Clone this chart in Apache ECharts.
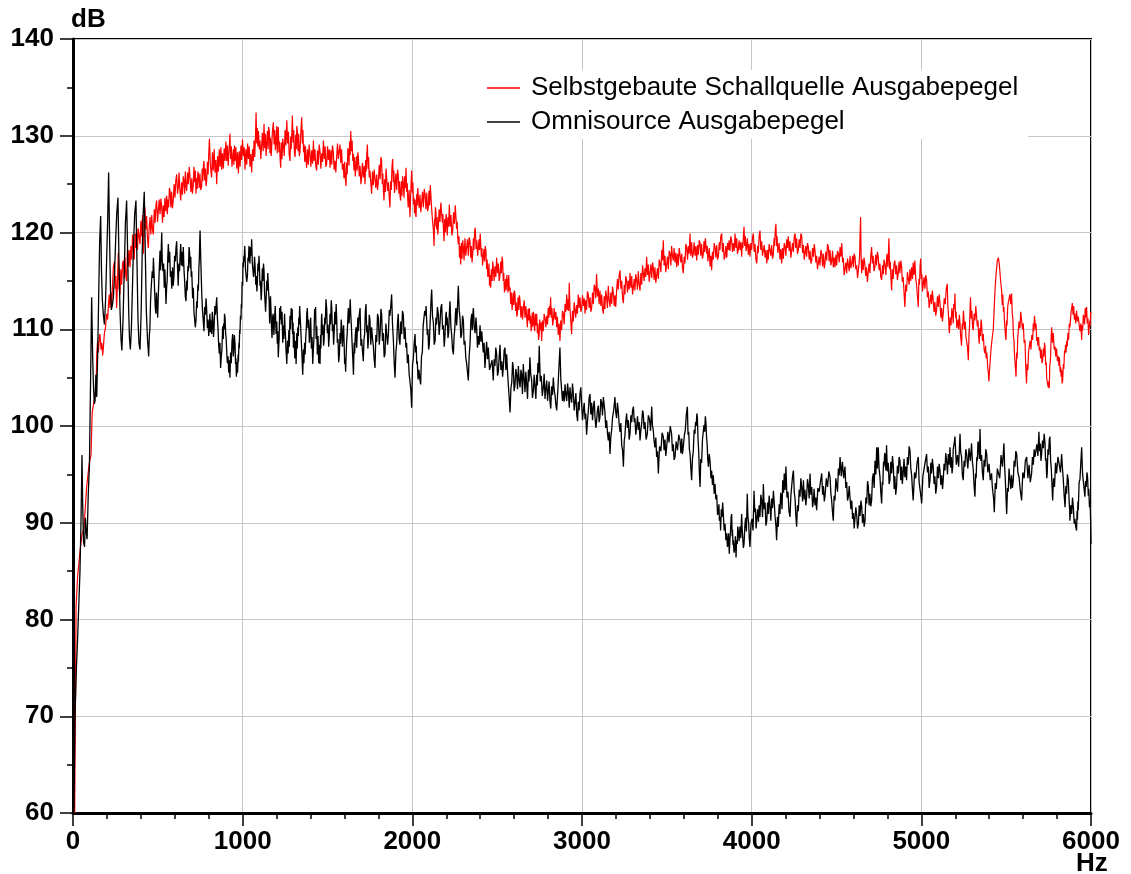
<!DOCTYPE html>
<html>
<head>
<meta charset="utf-8">
<title>Ausgabepegel</title>
<script src="https://cdn.jsdelivr.net/npm/echarts@6/dist/echarts.min.js"></script>
<style>
  html, body { margin: 0; padding: 0; background: #fff; }
  #chart { width: 1131px; height: 874px; }
</style>
</head>
<body>
<div id="chart"></div>
<script>
const seriesNames = ['Selbstgebaute Schallquelle Ausgabepegel', 'Omnisource Ausgabepegel'];
const seriesColors = ['#ff0000', '#000000'];

// [Hz, dB]
const selbstgebaute = [
  [10,60],[18,81.4],[27,84.4],[41,87],[53,88.8],[65,89.5],[80,93.6],[96,96.2],[106,97],[113,101.4],[120,101.2],[128,103],[136,104],[140,107.4],[145,108.8],[150,107.6],[155,109.2],[159,109.5],[165,107.9],[170,108.6],[175,107.3],[179,108.1],[185,109.6],[191,110.1],[198,111.6],[204,111],[209,112.6],[214,113.6],[218,112.2],[223,113.8],[228,112.4],[233,114.6],[238,116.4],[244,117],[249,114.2],[253,115.5],[257,112.2],[262,114.6],[267,117.9],[272,114.2],[277,113.6],[282,116.2],[287,114.6],[292,116.8],[297,117.1],[302,115.2],[306,117.5],[311,115.6],[316,115],[321,118.3],[326,116.5],[331,118.2],[336,116.4],[341,118.6],[346,117.2],[351,119.8],[356,118.1],[361,117.2],[366,119.9],[371,118.4],[375,120.5],[380,118.2],[385,120.4],[390,119.6],[395,118.8],[400,121.2],[405,119.6],[410,121.8],[415,117.8],[420,120.2],[424,122.6],[429,120.3],[434,121.7],[439,119.4],[444,118.4],[449,120.5],[454,121.6],[459,119.8],[464,121.8],[469,120.2],[474,119.8],[479,122.4],[484,121],[489,122.8],[493,123.3],[498,121.1],[503,121.2],[508,123.4],[513,121.9],[518,123.5],[523,122.6],[528,121],[532,122.8],[537,121.6],[542,123.6],[547,122.2],[552,123.8],[556,121.9],[560,123.4],[564,122.6],[568,124.6],[572,124.3],[577,122.6],[581,124.2],[586,122.5],[591,123.3],[596,125],[601,123.6],[606,125.4],[611,126],[616,124],[621,124.7],[625,126.2],[630,124.4],[635,123.3],[640,125.2],[645,123.9],[650,125.8],[654,125.3],[658,124],[662,126.3],[666,124.8],[670,124.3],[675,126.2],[680,125],[685,126.8],[690,125.7],[695,124.2],[700,125.6],[704,124],[709,125],[713,126.8],[717,125.2],[721,126.4],[725,124],[729,125.6],[732,124.5],[736,126.3],[739,126],[744,124.6],[748,126.1],[753,124.4],[758,124.7],[762,126.6],[765,125.3],[769,127],[772,127.4],[776,125.4],[780,126.6],[784,124.8],[788,125.3],[792,127.3],[796,126],[800,128],[804,129.7],[810,126.9],[817,125.7],[822,128.3],[827,126.4],[832,128.6],[837,126.2],[842,127.5],[847,125],[852,127.9],[857,126.3],[862,128.6],[867,126.8],[872,128.8],[876,126.5],[881,128.2],[886,126.6],[891,128.7],[896,127.4],[901,129.4],[906,127.4],[910,129],[915,126.9],[920,128.6],[925,130.2],[929,127.6],[933,128.9],[937,126.8],[941,126.7],[945,128.6],[948,127],[952,129],[955,127.4],[960,128.8],[965,126.6],[970,128.3],[975,126.1],[980,128.4],[985,126.8],[990,129],[994,127.5],[999,129.6],[1004,127.9],[1009,128.8],[1014,126.5],[1019,128.6],[1024,127],[1029,129.2],[1034,127.6],[1039,128.9],[1043,126.8],[1048,128.1],[1053,126.2],[1058,128.6],[1063,127.4],[1067,129.5],[1071,127.8],[1075,129.6],[1079,132.4],[1083,129.2],[1086,130.8],[1090,128.9],[1093,130.5],[1098,128.6],[1102,129.5],[1107,127.6],[1112,127.8],[1116,130.3],[1121,128.4],[1126,131.2],[1130,128.7],[1134,130.2],[1138,127.9],[1142,128.1],[1146,130.5],[1150,128.6],[1153,130.9],[1157,130.5],[1161,128.2],[1164,129.8],[1168,127.9],[1171,128.8],[1176,130.6],[1181,131.4],[1185,129.1],[1189,130.6],[1193,128.5],[1197,129.5],[1201,131],[1204,128.2],[1207,130.2],[1210,130.9],[1214,128.3],[1217,129.4],[1221,127.5],[1224,126.7],[1228,129.3],[1232,127.6],[1236,129.7],[1240,129.1],[1245,127.9],[1250,130.6],[1255,129],[1260,131.6],[1265,129.2],[1270,130.4],[1274,128.1],[1279,127.4],[1283,129.9],[1286,128.6],[1290,130.4],[1293,132.1],[1297,129.3],[1301,130.6],[1305,128.2],[1309,127.8],[1313,130.1],[1316,128.6],[1319,131],[1322,130.5],[1326,128.4],[1330,130.2],[1334,127.9],[1338,128.4],[1343,130.4],[1348,131.9],[1352,129.2],[1355,130.6],[1359,128.3],[1362,129.1],[1366,127.3],[1370,128.9],[1374,127.4],[1377,126.7],[1382,128.6],[1387,127],[1392,129.1],[1397,128.1],[1402,126.8],[1407,128.5],[1412,127.1],[1417,129.5],[1421,127.4],[1426,128.6],[1431,126.9],[1436,126.4],[1441,128.5],[1446,127],[1451,129.1],[1456,128.4],[1461,126.6],[1466,128.2],[1471,127.3],[1476,129.5],[1481,127.6],[1486,128.9],[1490,126.8],[1495,127.1],[1500,128.9],[1505,127.5],[1510,128.6],[1515,126.7],[1520,128.5],[1525,127],[1529,129],[1534,128.4],[1539,126.5],[1544,127.4],[1549,126.2],[1554,127.8],[1559,129.2],[1564,127.6],[1569,128.4],[1574,129.1],[1578,127.2],[1583,128.6],[1588,126.5],[1593,127.1],[1597,125.6],[1601,127.3],[1605,125.6],[1609,124.8],[1613,127.2],[1616,126],[1620,128.7],[1623,128.4],[1627,126.9],[1630,129.4],[1634,128],[1637,130.5],[1641,128.4],[1645,129.5],[1649,127.4],[1652,128.1],[1656,126.4],[1660,127.8],[1664,125.8],[1668,126],[1672,127.9],[1675,126.4],[1679,128.3],[1682,127.8],[1687,125.8],[1692,126.9],[1697,125],[1701,125.7],[1706,127.2],[1711,125.7],[1716,126.9],[1721,125],[1725,127.5],[1728,126.3],[1732,128.2],[1735,129.1],[1739,126.6],[1742,127.8],[1746,125.7],[1750,126.4],[1755,125.2],[1760,124],[1765,126.3],[1770,124.9],[1775,126.5],[1780,126.7],[1785,124.6],[1790,126],[1795,124.4],[1800,125.3],[1805,127],[1810,125.5],[1815,127.8],[1819,127.4],[1823,125],[1826,126.1],[1830,124.2],[1833,123.3],[1837,125.5],[1841,124.2],[1845,126.6],[1849,126.4],[1854,124.3],[1859,125.2],[1864,123.6],[1868,122.6],[1872,125.3],[1876,124.4],[1880,126.8],[1884,127.6],[1888,125.2],[1891,126.4],[1895,124.1],[1898,124.7],[1903,126.1],[1908,124.4],[1913,126.5],[1917,126],[1921,124],[1924,125.3],[1928,123.7],[1931,123.3],[1935,125.3],[1939,123.8],[1943,125.8],[1947,125],[1951,123.6],[1955,125.8],[1959,124.6],[1963,126.7],[1967,124.2],[1970,125.1],[1973,123.4],[1976,122.6],[1981,124.4],[1986,121.6],[1991,124.2],[1996,126.4],[2000,124.1],[2003,125.2],[2007,122.9],[2010,123.6],[2013,122],[2016,123.4],[2019,121.9],[2022,121.6],[2026,124],[2029,122.8],[2032,124.6],[2035,124.7],[2040,122.5],[2045,123.9],[2050,122.1],[2055,122.2],[2060,124.2],[2065,122.6],[2070,124.5],[2075,124],[2080,122.4],[2085,124.1],[2090,122.2],[2094,122.6],[2098,124.3],[2102,122.8],[2106,124.9],[2110,124.7],[2114,122.4],[2119,121.2],[2124,120.3],[2128,118.6],[2131,121.4],[2133,120.6],[2136,122.6],[2139,122.2],[2143,120.3],[2146,121.6],[2150,119.8],[2153,120.5],[2158,122.4],[2163,121.1],[2168,123.1],[2173,123.3],[2177,121],[2180,121.9],[2184,120.1],[2187,119.1],[2191,121.4],[2195,120],[2199,121.9],[2202,121.2],[2206,119.7],[2210,121.6],[2214,120.6],[2218,122.9],[2223,120.6],[2228,121.8],[2233,119.7],[2238,120.2],[2243,122.1],[2248,120.9],[2253,122.8],[2257,122.6],[2261,120.4],[2264,121.1],[2268,119.4],[2271,118.8],[2275,119.6],[2278,117.4],[2282,118.6],[2285,116.7],[2289,118.9],[2293,117.3],[2297,119.2],[2301,118.4],[2305,117.1],[2310,119.4],[2315,117.6],[2320,117.8],[2325,119.3],[2330,117.6],[2335,119.5],[2340,119.1],[2344,117.4],[2348,118.6],[2352,116.9],[2356,117.8],[2360,119.4],[2363,118.2],[2367,120.1],[2371,120.5],[2376,118.3],[2380,119.2],[2385,117.6],[2389,117.4],[2393,119.3],[2396,118.2],[2400,119.9],[2403,119.8],[2407,117.5],[2410,118.4],[2414,116.6],[2418,116.7],[2422,118.3],[2426,117],[2430,118.6],[2434,118.1],[2438,116.2],[2441,117.2],[2445,115.4],[2448,115.7],[2452,116.8],[2455,114.5],[2459,115.6],[2462,114.3],[2466,116.2],[2470,115],[2474,117],[2477,116.4],[2482,115],[2487,116.5],[2492,115.4],[2497,117.4],[2502,115.8],[2507,116.8],[2512,115],[2517,115.7],[2521,117],[2525,115.8],[2529,117.5],[2532,117.1],[2536,115],[2539,115.8],[2543,113.8],[2546,113.6],[2550,115.2],[2553,114],[2557,115.6],[2560,115],[2564,113.8],[2568,115.6],[2572,114],[2576,114.3],[2580,112.6],[2584,113.8],[2588,112],[2591,112.2],[2595,113.8],[2598,112.5],[2602,114],[2605,113.6],[2609,111.9],[2612,112.8],[2616,111.3],[2619,111.6],[2623,113.3],[2627,112],[2631,113.5],[2635,112.9],[2640,111.2],[2645,112.4],[2650,111],[2654,112.2],[2659,113],[2664,111.2],[2669,112.4],[2674,111.2],[2678,110.2],[2682,112.1],[2686,110.9],[2690,112.2],[2694,110.6],[2697,111.4],[2700,109.8],[2703,110.2],[2707,111.7],[2710,110.3],[2714,111.8],[2717,110.9],[2721,109.8],[2725,111.6],[2729,110.4],[2733,111.6],[2737,109.6],[2740,110.6],[2744,108.9],[2748,109.5],[2751,111],[2755,109.9],[2759,110.7],[2762,108.8],[2767,110.9],[2772,109.8],[2777,111.6],[2782,111.2],[2787,110.2],[2792,111.4],[2797,110.5],[2801,112.2],[2805,111.2],[2808,112.4],[2812,111.5],[2815,113.3],[2819,111.2],[2823,112.2],[2827,110.4],[2831,110.9],[2836,112.2],[2841,111],[2846,111.8],[2851,110.2],[2855,111.3],[2860,109.4],[2865,110.6],[2870,108.8],[2875,110.9],[2880,109.9],[2885,111.9],[2890,111.6],[2895,110.5],[2900,112.6],[2905,111.8],[2910,113.6],[2914,112],[2918,113.1],[2921,111.9],[2925,114.8],[2929,112.2],[2932,111.4],[2936,110.2],[2939,109.5],[2944,111.9],[2949,110.8],[2954,112.8],[2959,112.6],[2963,111.2],[2968,112.5],[2973,111.6],[2978,113.6],[2983,112.2],[2988,113.3],[2993,111.8],[2998,112.2],[3003,113.5],[3008,112.4],[3013,113.2],[3018,111.6],[3022,113],[3027,112],[3032,113.9],[3037,113.6],[3042,112.2],[3047,113.3],[3052,111.8],[3057,112.2],[3062,113.8],[3067,112.6],[3072,114.6],[3077,114.3],[3081,113.2],[3086,115.7],[3091,113.4],[3096,114.2],[3101,112.6],[3106,114],[3111,112.4],[3116,113.6],[3121,112.1],[3126,111.6],[3131,113.4],[3135,112.1],[3140,114],[3145,113.3],[3150,112.2],[3155,114.5],[3160,113],[3165,112.3],[3170,113.8],[3175,112.6],[3180,114.4],[3185,113.7],[3190,112.4],[3194,113.5],[3199,112.3],[3204,114],[3209,115.2],[3214,114.1],[3219,115.6],[3224,116.1],[3229,114.2],[3234,115],[3239,113.2],[3244,112.7],[3249,114.6],[3253,113.6],[3258,115.5],[3263,115.1],[3268,113.8],[3273,115],[3278,114.1],[3283,115.8],[3288,114.3],[3293,115.5],[3298,113.6],[3303,113.7],[3308,115.2],[3312,114],[3317,115.7],[3322,115.1],[3327,114.1],[3332,116],[3337,114.6],[3342,114],[3347,115.8],[3352,114.6],[3357,116.6],[3361,116.4],[3366,115],[3371,116.3],[3376,115.4],[3381,117.5],[3386,115.6],[3391,116.7],[3396,114.9],[3401,115.1],[3406,116.7],[3411,115.3],[3416,116.9],[3420,116.4],[3425,115.1],[3430,116.4],[3435,114.8],[3440,114.7],[3445,116.3],[3450,115.2],[3455,117.2],[3460,116.8],[3465,115.9],[3470,118.2],[3475,117.1],[3479,119.2],[3484,116.6],[3489,117.6],[3494,115.9],[3499,116.1],[3504,117.5],[3509,116.2],[3514,118.1],[3519,117.8],[3524,116.6],[3528,118.6],[3533,117.6],[3538,117.1],[3543,118.4],[3548,116.9],[3553,117.9],[3558,116.4],[3563,117.8],[3568,116.6],[3573,118.4],[3578,118.2],[3583,116.9],[3588,117.8],[3592,116.4],[3597,115.8],[3602,117.5],[3607,116.8],[3612,118.8],[3617,118.5],[3622,117.2],[3627,118.6],[3632,117.8],[3637,119.9],[3641,117.6],[3646,119],[3651,117.4],[3656,117.8],[3661,119],[3666,117.6],[3671,118.6],[3676,117.1],[3681,118.7],[3686,117.7],[3691,119.2],[3696,118.9],[3700,117.6],[3705,118.8],[3710,117.3],[3715,117.8],[3719,119.1],[3723,118],[3727,119.4],[3731,119.6],[3735,117.8],[3738,118.6],[3742,117],[3745,117.5],[3750,118.4],[3755,116.5],[3760,117.6],[3764,116.1],[3769,118],[3774,117.2],[3779,118.9],[3784,118.5],[3789,117.4],[3794,118.7],[3799,117.2],[3804,117.5],[3809,119],[3813,118.2],[3818,119.6],[3823,119.9],[3828,118],[3833,118.9],[3838,117.2],[3843,117.5],[3848,118.6],[3853,117.4],[3858,118.9],[3863,118.2],[3867,119.2],[3872,118.1],[3877,119.6],[3882,119.2],[3887,118],[3892,118.9],[3897,118.1],[3902,119.9],[3907,118.4],[3912,119.4],[3916,117.8],[3921,118.2],[3926,119.2],[3931,118.2],[3936,119],[3941,117.5],[3945,119],[3948,118.4],[3952,119.8],[3955,120.6],[3959,118.6],[3963,119.6],[3967,118.1],[3971,118.5],[3975,119.4],[3980,117.7],[3985,118.8],[3990,117.5],[3995,118.9],[4000,118.2],[4005,119.5],[4010,119.9],[4015,118],[4020,118.8],[4025,117.2],[4030,116.8],[4035,118.6],[4039,117.9],[4044,119.6],[4049,120.2],[4054,118.2],[4059,119.1],[4064,117.6],[4069,117.5],[4074,118.7],[4079,117.4],[4084,118.2],[4089,116.8],[4094,118.2],[4098,117.2],[4103,118.8],[4108,118.9],[4113,117.6],[4118,118.7],[4123,117.3],[4128,117.8],[4132,119.4],[4135,118.6],[4139,120.2],[4143,120.9],[4147,118.6],[4150,119.6],[4154,117.9],[4157,117.8],[4162,118.9],[4167,117.2],[4172,118.3],[4177,116.8],[4182,118.4],[4187,117.3],[4192,118.9],[4197,118.5],[4202,117.6],[4206,119.3],[4211,118.4],[4216,119.6],[4221,118.1],[4226,119.1],[4231,117.4],[4236,117.5],[4241,118.9],[4246,118],[4251,119.6],[4256,119.9],[4260,118.4],[4265,119.4],[4270,117.8],[4275,118.2],[4280,119.3],[4285,118.4],[4290,119.9],[4295,119.6],[4300,117.9],[4305,118.7],[4310,117.2],[4314,117.1],[4319,118.6],[4324,117.5],[4329,118.9],[4334,118.5],[4339,117.2],[4344,118.1],[4349,116.8],[4354,117.1],[4359,118.4],[4364,117.5],[4369,118.8],[4373,118.2],[4378,116.9],[4383,117.6],[4388,116.2],[4393,116.1],[4398,117.5],[4403,116.6],[4408,118.2],[4413,117.8],[4418,116.5],[4423,117.8],[4428,116.3],[4432,116.8],[4437,118],[4442,117.1],[4447,118.8],[4452,118.5],[4457,117],[4462,118.2],[4467,116.6],[4472,117.1],[4477,118.1],[4481,116.4],[4486,117.4],[4491,116.4],[4496,117.7],[4501,116.6],[4506,118.1],[4511,117.8],[4516,116.9],[4521,118.5],[4526,117.5],[4531,118.9],[4536,116.9],[4540,117.4],[4545,115.6],[4550,115.4],[4555,116.9],[4560,115.8],[4565,117.3],[4570,117.1],[4575,116],[4580,117.6],[4585,116.3],[4590,116.8],[4595,117.6],[4600,116.4],[4604,117.8],[4609,117.5],[4614,116.2],[4619,116.6],[4624,115.3],[4629,115.4],[4633,116.8],[4636,117.5],[4639,119.8],[4642,121.6],[4645,117.5],[4648,115.8],[4652,117.2],[4657,116.1],[4662,117.4],[4667,116.8],[4672,115.5],[4677,116.4],[4682,114.9],[4687,115.1],[4692,116.8],[4697,115.8],[4702,117.6],[4707,118.5],[4711,116.8],[4716,117.6],[4721,116],[4726,116.4],[4731,117.7],[4736,116.6],[4741,118],[4746,117.5],[4751,116.1],[4756,116.8],[4761,115.4],[4766,115.1],[4771,116.6],[4776,115.7],[4780,117.2],[4785,116.8],[4791,115.6],[4797,117.8],[4803,116.4],[4809,119.4],[4813,116.2],[4817,117],[4821,115.2],[4825,114],[4829,116.2],[4834,115.2],[4839,116.8],[4844,117.1],[4849,115.7],[4854,116.6],[4859,115.1],[4864,115.8],[4869,117],[4874,115.8],[4879,117.1],[4884,116.4],[4888,114.9],[4893,115.4],[4898,113.8],[4903,112.3],[4908,114.6],[4913,113.9],[4918,115.9],[4923,115.8],[4928,114.6],[4933,116.2],[4938,115],[4943,116.4],[4948,115.2],[4952,116.9],[4957,115.6],[4962,117.1],[4967,115.2],[4972,114.6],[4977,113.4],[4982,112.3],[4986,115.2],[4989,114.6],[4993,116.6],[4996,117.3],[5000,115.2],[5003,115.7],[5007,113.9],[5011,114],[5016,115.4],[5021,114.2],[5026,115.6],[5031,115.1],[5036,113.3],[5041,113.9],[5046,112.2],[5051,112.3],[5056,113.6],[5060,112.6],[5065,114],[5070,113],[5075,111.8],[5080,112.8],[5085,111.4],[5090,112],[5095,113.4],[5100,112.3],[5105,113.6],[5110,112.7],[5115,111.2],[5120,112.2],[5124,110.8],[5129,111.6],[5135,113.2],[5141,112.6],[5147,114.2],[5153,114.7],[5156,112.5],[5159,111.8],[5162,110.6],[5165,109.6],[5170,111.2],[5175,110.4],[5180,112.2],[5184,111.6],[5188,110.6],[5191,112.6],[5195,112.1],[5198,113.7],[5202,111.2],[5205,111.8],[5209,110.1],[5212,109.9],[5216,111],[5220,110],[5224,111.5],[5228,110.6],[5232,109.2],[5237,108.3],[5241,110.6],[5244,110],[5248,111.9],[5251,111.9],[5255,110],[5259,110.8],[5263,109.2],[5267,109.2],[5272,108.2],[5277,106.8],[5281,109.4],[5284,110.3],[5287,112],[5290,113.3],[5294,111.1],[5298,111.9],[5302,110.2],[5306,109.9],[5311,111.6],[5316,110.9],[5321,112.4],[5326,112.3],[5330,110.3],[5334,110.9],[5338,109.2],[5341,108.5],[5345,110.1],[5348,109.3],[5352,111],[5355,110.6],[5360,108.8],[5365,109.5],[5370,107.9],[5375,107.5],[5379,108.3],[5382,107],[5386,107.6],[5389,106.8],[5392,105.9],[5395,105.5],[5398,104.6],[5400,104.4],[5404,106.3],[5407,106.2],[5411,108],[5414,108.2],[5419,109.3],[5424,109.9],[5429,112],[5434,114],[5441,115.8],[5448,117.1],[5454,117.4],[5459,116.8],[5466,115.3],[5473,114],[5477,112.5],[5480,113.6],[5484,111.8],[5487,112.3],[5490,110.8],[5493,110.9],[5496,109.3],[5499,108.9],[5502,110.9],[5505,110.4],[5509,112.3],[5512,112.7],[5517,112.9],[5522,113.6],[5527,112.6],[5532,113.7],[5536,111.6],[5539,111.2],[5543,109.2],[5546,108.9],[5549,107.4],[5552,107.2],[5555,105.9],[5558,105.1],[5562,107.6],[5565,107],[5568,109],[5571,109.2],[5576,110.8],[5581,110.1],[5586,111.8],[5591,111.6],[5596,110],[5601,110.6],[5606,108.6],[5611,108.9],[5615,106.2],[5620,104.4],[5624,106.4],[5628,105.8],[5632,107.7],[5636,107.5],[5641,108.8],[5646,107.9],[5651,109.4],[5656,108.9],[5660,110.6],[5663,109.8],[5667,111.4],[5670,111.6],[5673,110],[5676,110.6],[5680,108.8],[5683,109.2],[5687,108.3],[5691,109.2],[5695,107.8],[5699,108.2],[5703,107],[5707,107.9],[5711,106.5],[5715,106.8],[5719,108],[5722,107.2],[5726,108.6],[5729,108.2],[5733,106.3],[5736,106.6],[5739,104.9],[5742,104.7],[5745,104.9],[5748,104],[5751,104.6],[5754,103.9],[5757,106.2],[5761,106.8],[5764,108.6],[5768,110.2],[5773,108.6],[5778,109.6],[5783,107.9],[5788,108.2],[5792,107.2],[5797,108],[5802,106.7],[5807,107.2],[5811,106.2],[5814,107.1],[5818,105.6],[5821,106.1],[5824,105.1],[5827,105.8],[5830,104.4],[5833,104.7],[5837,106.4],[5840,105.9],[5844,107.8],[5847,107.5],[5850,108.4],[5853,107.6],[5857,108.8],[5860,108.2],[5864,109.6],[5868,108.9],[5872,110.6],[5876,110.2],[5880,111.2],[5883,111.9],[5887,112.3],[5890,112.7],[5894,111.5],[5898,112.4],[5902,111],[5905,111.6],[5910,110.6],[5915,111.9],[5920,110.8],[5925,111.3],[5930,110.5],[5935,109.8],[5940,110.6],[5945,108.9],[5948,110.4],[5951,109.9],[5955,111.5],[5958,111.6],[5962,110.5],[5966,112.2],[5970,111.2],[5974,112.3],[5978,110.6],[5982,111.1],[5986,109.4],[5990,109.6],[5993,110.9],[5995,110.3],[5998,111.8],[6000,111.6]
];

const omnisource = [
  [5,60],[12,70],[20,75],[27,78],[35,82],[41,84.9],[47,90],[53,97],[57,92],[62,88],[68,87.5],[73,90.5],[78,89],[83,88.3],[90,93],[97,96],[103,104],[110,113.3],[116,107],[121,104],[126,102.3],[130,102.6],[135,105.3],[140,103],[146,108],[152,114],[157,119],[163,121.7],[168,116],[173,113],[179,111.5],[185,110.5],[192,113],[198,117],[204,121],[210,126.2],[216,119],[221,114],[226,112],[232,112.5],[238,113.3],[245,116],[252,119.5],[258,122],[265,123.6],[271,117],[277,112],[283,109],[288,107.8],[295,111],[302,116],[309,121],[316,123.3],[322,118],[328,112],[333,109],[338,107.9],[344,110],[350,114],[357,119],[364,122],[371,123.3],[377,117],[383,111],[389,108.5],[395,107.9],[402,112],[408,118],[414,122],[420,124.2],[426,118],[432,112],[439,109],
  [446,107.2],[450,109.4],[453,110],[457,112.9],[460,114],[464,115.2],[467,116],[471,115.3],[474,117.4],[478,115.6],[481,114],[485,112.2],[489,111.6],[492,113.8],[494,113],[497,112.4],[499,111.2],[503,113.6],[506,115],[510,116.9],[513,118.1],[516,116.1],[518,116.8],[521,118.9],[523,120],[526,117.1],[530,116],[534,116.8],[538,114.3],[541,116.2],[543,115.5],[546,114],[548,112.6],[552,114.4],[555,115],[559,117.6],[562,118.8],[566,116.9],[570,118],[574,115.4],[578,116],[582,114.2],[587,116.4],[591,114.5],[595,115.5],[599,117.6],[603,117],[607,118.4],[611,119.1],[614,117.2],[616,116.5],[618,115.6],[620,114.5],[624,116.8],[628,116],[632,117.9],[635,118.8],[639,116.6],[643,118],[647,116.5],[650,118.5],[654,116.2],[658,115],[662,113.4],[666,112.9],[670,115],[673,114],[677,116.5],[680,116],[684,118.5],[687,118],[691,116.3],[694,117.5],[697,115.4],[700,116],[705,113.2],[709,114.3],[713,111.8],[717,112],[721,110.2],[725,110.9],[729,112.9],[732,112.2],[736,114.6],[739,114],[742,116.4],[744,117],[747,119.1],[749,120.2],[752,117.9],[755,116],[759,113.6],[763,112],[768,110.8],[772,109.8],[776,112.3],[780,111.5],[784,113.2],[788,112],[792,110.1],[796,111],[800,109.3],[804,110.5],[807,111.6],[810,109.7],[814,110.9],[817,109.5],[821,111.8],[824,111],[828,109.2],[831,110],[836,112.4],[840,111.5],[844,112.6],[847,113.3],[851,111.2],[855,110],[858,108.6],[862,107.5],[866,108.6],[870,106],[874,107.2],[878,108],[882,110.3],[886,109],[888,110.6],[891,110],[893,111.6],[896,111.2],[900,109.5],[903,109],[907,107.3],[910,106.5],[914,107.2],[918,105.5],[922,106.8],[925,105],[929,107.6],[933,106.5],[937,108.7],[941,109.5],[945,107.2],[948,108],[951,109.4],[955,108.5],[958,106.4],[960,107],[963,105.1],[965,105.3],[968,106.6],[970,105.5],[973,107.4],[975,106.6],[978,108.6],[980,108],[982,109.9],[984,109.5],[987,111.4],[990,111],[992,112.6],[994,112.2],[997,114.9],[1000,114.5],[1002,116.9],[1004,116.4],[1007,117.6],[1009,117],[1012,118.6],[1014,117.8],[1017,116.1],[1020,116],[1024,114.9],[1028,115.5],[1031,117.4],[1034,117],[1037,118.6],[1039,118.1],[1043,116.8],[1046,118.5],[1050,117.6],[1053,119.3],[1057,116.8],[1060,117],[1064,115.4],[1067,116],[1070,117.5],[1073,116.6],[1077,114.6],[1080,115.5],[1084,113.9],[1087,115],[1090,116.8],[1093,116],[1096,117.6],[1098,116.9],[1102,114.5],[1105,115],[1109,113],[1112,114],[1116,116.3],[1119,115],[1123,116.8],[1126,116],[1129,113.8],[1132,114],[1135,111.8],[1138,112.9],[1142,115],[1145,114],[1148,115.8],[1150,115],[1153,113.8],[1156,113],[1159,110.6],[1161,111.6],[1164,113.4],[1167,112],[1170,110.2],[1173,109.1],[1177,111.3],[1180,111.6],[1184,109.4],[1188,111],[1192,112.4],[1197,109.5],[1201,110.8],[1204,108.5],[1207,109.8],[1210,107.1],[1213,108.4],[1215,109],[1218,112.2],[1220,111],[1224,112.4],[1228,110.5],[1232,111.8],[1236,108.6],[1240,110.4],[1243,109],[1247,111.6],[1250,110],[1253,109.2],[1255,108],[1258,107.2],[1260,106.4],[1264,108.8],[1268,107.5],[1272,109.9],[1275,108.2],[1279,111.4],[1282,110],[1286,112.2],[1289,111],[1292,112.1],[1294,109.5],[1297,110.7],[1299,108.1],[1303,109.8],[1307,107],[1311,108.8],[1315,106.4],[1319,109.6],[1322,108],[1325,110.2],[1328,109.3],[1331,111.2],[1333,110.5],[1336,112.4],[1338,111.6],[1342,110.2],[1345,109],[1350,107.1],[1354,105.3],[1358,107.9],[1361,106.5],[1365,108.6],[1368,107.4],[1372,109.2],[1375,110],[1378,111.6],[1381,112.2],[1385,110.1],[1389,111],[1393,108.6],[1397,109.5],[1401,111.2],[1405,108],[1409,109.2],[1413,106.4],[1417,108.1],[1420,109],[1424,112.1],[1427,111],[1430,112.3],[1433,109],[1437,110.3],[1440,107.4],[1444,109.3],[1448,106.5],[1452,108.4],[1456,106.4],[1459,109.4],[1461,108],[1464,110.8],[1466,111.6],[1470,109.4],[1473,110.5],[1477,108.3],[1480,108.9],[1484,111.2],[1487,110.5],[1491,113.1],[1495,112.2],[1499,109.6],[1503,110.5],[1507,108.2],[1511,109.5],[1515,111.6],[1518,110.5],[1522,113],[1525,112.2],[1529,109.8],[1532,110.5],[1536,108.4],[1539,109.5],[1543,111.8],[1547,110.5],[1551,112.6],[1554,111.2],[1558,108.6],[1562,109],[1566,106.6],[1570,107.4],[1574,109.6],[1577,108.5],[1581,111],[1584,110.2],[1588,108.2],[1591,109.5],[1595,110.4],[1598,108.6],[1601,106.4],[1604,107],[1607,105.6],[1609,106.9],[1613,108.8],[1616,109.5],[1620,111.2],[1623,112.2],[1627,110.6],[1630,111.5],[1634,113.1],[1637,111.6],[1641,110.2],[1645,108.5],[1649,107],[1653,105.3],[1657,108.6],[1660,107.5],[1664,109.4],[1668,110.2],[1672,108.1],[1675,109.5],[1679,111.2],[1682,109.8],[1687,111.5],[1692,112.2],[1697,108.3],[1701,109],[1706,107.8],[1711,106.7],[1715,108.9],[1719,109.5],[1723,111.8],[1727,112.6],[1731,109.7],[1734,110.4],[1738,108],[1741,108.8],[1746,111.5],[1750,111],[1755,108.4],[1760,110.2],[1765,109.1],[1770,108.3],[1775,106.9],[1780,106],[1785,109.4],[1790,108.7],[1795,111.6],[1800,111.2],[1805,108.4],[1810,109.5],[1815,112.1],[1819,111.6],[1824,108.8],[1829,109.6],[1834,107.1],[1839,107.4],[1844,110.6],[1849,110.8],[1854,108.4],[1859,109.5],[1864,112],[1868,111.4],[1873,112.4],[1878,113.6],[1883,110.6],[1888,109],[1893,106.6],[1898,105],[1903,107.6],[1908,108.6],[1913,110.8],[1917,111.6],[1922,109],[1927,108.4],[1932,110.8],[1937,109.5],[1942,111.9],[1947,111.5],[1952,109],[1957,110.2],[1962,108.1],[1966,108.6],[1971,106.5],[1976,107.4],[1981,105.4],[1986,105.5],[1991,103.8],[1996,101.9],[2001,106.3],[2006,107],[2011,108.6],[2016,109.5],[2019,107.6],[2023,108.3],[2026,106.4],[2029,106.7],[2034,104.8],[2039,105.8],[2044,104.9],[2049,104.3],[2054,107.2],[2059,107.6],[2064,110.4],[2069,110.2],[2073,111.9],[2077,111.4],[2081,112.4],[2084,112.2],[2088,109.4],[2092,110],[2096,107.9],[2100,108.4],[2104,110.3],[2107,111.6],[2111,113.2],[2114,114.1],[2119,111.3],[2124,110.7],[2129,108.4],[2134,108.8],[2139,111.2],[2143,110.5],[2148,112.3],[2153,111.6],[2158,109.4],[2163,110.6],[2168,112.2],[2173,112.6],[2178,110],[2183,110.4],[2188,108.2],[2193,109.5],[2197,111.4],[2200,111.8],[2203,110.4],[2206,111.2],[2210,109.1],[2214,109.6],[2218,111.6],[2222,112.9],[2227,110.3],[2232,109.4],[2237,107.9],[2242,107.4],[2246,109.2],[2250,110],[2254,111.6],[2257,112.2],[2261,110.4],[2264,111.3],[2268,113.1],[2271,114.5],[2276,112],[2281,111.2],[2286,109.1],[2291,109.5],[2296,111.4],[2301,110.9],[2305,108.4],[2310,108.8],[2315,107.1],[2320,106.5],[2325,105.6],[2330,104.7],[2335,107.2],[2340,108.5],[2345,110.9],[2350,111.6],[2353,109.9],[2355,110.5],[2358,111.9],[2360,112.2],[2365,110.2],[2370,109.6],[2375,111.2],[2379,110.2],[2384,108.1],[2389,109.3],[2394,108.4],[2399,110.4],[2404,108.7],[2409,109.8],[2414,108.6],[2418,107.6],[2423,108.6],[2428,106],[2433,107.4],[2438,108.7],[2443,106.9],[2448,108.1],[2455,105.8],[2462,106],[2470,106.8],[2477,104.7],[2482,106.9],[2487,106.2],[2492,108.1],[2497,107.4],[2502,105.2],[2507,105.6],[2512,107.2],[2517,108.4],[2522,105.8],[2527,106.7],[2532,105.1],[2536,106],[2541,107.8],[2546,108.1],[2551,105.8],[2556,107.4],[2561,105.6],[2566,104.2],[2571,102.9],[2576,101.4],[2581,103.9],[2586,104.5],[2591,106.6],[2595,106],[2600,103.6],[2605,104.2],[2610,105.9],[2615,105.3],[2620,103.8],[2625,106.2],[2630,104.7],[2635,104],[2640,105.8],[2644,105.4],[2649,103.3],[2654,106.4],[2659,104.9],[2664,103.5],[2669,105.6],[2674,104.3],[2679,102.8],[2684,105.8],[2688,104.6],[2693,107.1],[2698,105.3],[2703,104.8],[2708,102.9],[2713,103.6],[2718,105.3],[2723,104.1],[2728,102.8],[2733,105.3],[2737,104.2],[2740,106.5],[2744,105.5],[2748,108.3],[2754,104.6],[2760,105.2],[2766,103.1],[2772,104],[2777,105.4],[2782,102.8],[2787,103.9],[2792,104.7],[2797,102.6],[2801,103.5],[2806,104.6],[2811,102.6],[2816,101.8],[2821,104.1],[2826,103.2],[2831,105],[2836,103.7],[2841,103.2],[2846,102.2],[2851,101.6],[2856,103.2],[2860,104.6],[2865,106.4],[2870,108.1],[2875,104.9],[2880,105.1],[2885,102.6],[2890,103.6],[2895,102.5],[2900,104.3],[2905,103.2],[2910,102.6],[2915,104.4],[2920,103.4],[2925,101.9],[2929,104],[2934,103],[2939,102.4],[2944,104.4],[2949,103.3],[2954,101.6],[2959,102.5],[2964,103.4],[2969,101.2],[2974,100.5],[2978,102.5],[2983,101.6],[2988,103.3],[2993,104],[2998,102.2],[3003,100.6],[3008,101.6],[3013,102.4],[3018,100.7],[3022,101.3],[3027,99.1],[3032,100.4],[3037,101.5],[3042,102.9],[3047,103.3],[3052,101.2],[3057,102.4],[3062,100.6],[3067,101.9],[3072,102.6],[3077,100.8],[3082,99.8],[3086,100.5],[3091,101.6],[3096,102.1],[3101,100.4],[3106,101],[3111,102.8],[3116,102.4],[3121,101.1],[3126,103],[3131,102.1],[3135,101.5],[3140,99.8],[3145,100.6],[3150,99.3],[3155,98.5],[3160,99.4],[3165,97.1],[3170,98.9],[3175,99.6],[3180,100.9],[3185,101.4],[3190,102.2],[3194,103],[3199,101.4],[3204,100.8],[3209,102.4],[3214,101.5],[3219,100.2],[3224,99.4],[3229,100.3],[3234,98],[3239,97.5],[3244,95.8],[3249,98.5],[3253,99],[3258,100.4],[3263,101.3],[3268,99.8],[3273,100.6],[3278,98.6],[3283,99.2],[3288,101.1],[3293,100.4],[3298,101.6],[3303,102],[3308,100.4],[3312,100.8],[3317,99.1],[3322,99.9],[3327,101],[3332,99.6],[3337,100.4],[3342,98.5],[3347,99.6],[3352,100.3],[3357,101.6],[3361,101.3],[3366,99.7],[3371,100.4],[3378,98.6],[3385,99.2],[3391,101.1],[3398,100.7],[3404,99.5],[3411,102],[3415,100.1],[3420,99.6],[3425,98.4],[3430,97.8],[3435,98.8],[3440,96.8],[3445,97.4],[3450,95.1],[3457,97.9],[3465,97.4],[3472,99.3],[3479,98.9],[3484,97.5],[3489,98.6],[3494,96.9],[3499,97.8],[3506,99.4],[3513,98.3],[3520,100],[3528,99.2],[3533,97.4],[3538,98.1],[3543,96.5],[3548,96.8],[3555,98.4],[3563,97.5],[3570,99.1],[3578,98.5],[3583,97.2],[3588,98.7],[3592,97.1],[3597,97.8],[3603,99],[3609,99.6],[3615,101.2],[3621,102],[3625,99.1],[3629,99.4],[3633,97.6],[3637,97.1],[3642,95.5],[3646,94.4],[3651,96.6],[3656,97.4],[3661,99.6],[3666,99.2],[3669,100.4],[3673,100],[3677,101.3],[3680,100.9],[3684,98.6],[3688,97.3],[3692,95.1],[3696,93.7],[3700,96.6],[3705,96.2],[3710,98.6],[3715,98.5],[3719,100.1],[3723,99.4],[3727,101],[3731,100.2],[3734,98.9],[3738,98],[3741,96.6],[3745,95.8],[3750,97.1],[3755,96.3],[3760,94.6],[3764,95.4],[3769,93.9],[3774,94.9],[3779,93],[3784,94],[3789,92.4],[3794,92.9],[3799,90.8],[3804,91.3],[3807,91.9],[3810,90.2],[3814,90.6],[3817,89.2],[3821,91.4],[3825,90.6],[3829,92.1],[3833,90.9],[3838,89.2],[3843,89.9],[3848,88.2],[3853,88.9],[3857,87.5],[3860,87.8],[3864,88.9],[3868,86.8],[3872,88.3],[3875,89],[3879,90.6],[3882,90.9],[3885,88.6],[3887,89.3],[3890,87.7],[3892,88.2],[3896,86.9],[3900,87.3],[3904,88.6],[3908,86.4],[3911,88.2],[3915,87.8],[3918,89.6],[3921,89.2],[3926,88.1],[3931,89.6],[3936,88.4],[3941,90.9],[3944,89.4],[3948,89.2],[3951,87.4],[3955,87.8],[3960,89.7],[3964,90.5],[3969,89.1],[3974,93],[3978,90.6],[3982,90],[3986,88.4],[3990,87.5],[3996,89.9],[4002,90.4],[4008,89.2],[4014,93.3],[4018,91.1],[4022,91.5],[4026,89.4],[4030,89.6],[4035,91.4],[4040,90.1],[4044,91.8],[4049,90.6],[4054,92.9],[4059,92.3],[4064,90.6],[4069,94],[4074,91.4],[4079,92.1],[4084,89.7],[4089,90.2],[4094,92.1],[4098,90.9],[4103,92.8],[4108,91.6],[4113,90.2],[4118,92.5],[4123,91.5],[4128,93.3],[4133,92.1],[4138,90.6],[4143,89.7],[4147,88.2],[4152,90.6],[4157,89.6],[4162,91.9],[4167,90.9],[4171,93.1],[4175,92.7],[4179,91.4],[4183,94.4],[4188,93.1],[4192,95.1],[4197,93.4],[4202,95.8],[4208,92.6],[4214,93.2],[4220,91.2],[4226,90.6],[4231,92.8],[4236,93],[4241,94.8],[4246,95.4],[4251,93.2],[4256,92.4],[4260,90.8],[4265,89.6],[4270,91.8],[4275,91.2],[4280,93.4],[4285,92.7],[4290,94.6],[4295,93.6],[4300,92.2],[4305,94.4],[4310,92.4],[4314,93.4],[4319,91.8],[4324,92.7],[4329,94.5],[4334,93.9],[4339,92.5],[4344,95.1],[4349,92.9],[4354,93.7],[4359,91.6],[4364,92.3],[4368,93.5],[4373,91.8],[4378,92.6],[4383,91.3],[4390,93.6],[4398,93.2],[4405,94.2],[4413,95.1],[4418,92.9],[4423,93.8],[4428,92.2],[4432,92.7],[4440,94.6],[4447,93.7],[4455,95.3],[4462,94.7],[4467,93],[4471,92.4],[4476,91.2],[4481,90.2],[4486,92.8],[4491,92.3],[4496,94.6],[4501,94.4],[4506,93.2],[4511,95.6],[4516,94.9],[4521,96.8],[4528,94.8],[4535,96.3],[4542,94.6],[4550,95.8],[4555,93.6],[4560,94.2],[4565,92.3],[4570,92.7],[4575,93.8],[4580,92.5],[4585,91.4],[4590,92.3],[4595,90.4],[4600,91],[4604,89.4],[4609,89.6],[4614,91.6],[4619,90.8],[4624,89.4],[4629,89.9],[4634,91.8],[4639,90.7],[4644,92.3],[4649,91.6],[4653,90],[4658,90.9],[4663,89.6],[4668,90.2],[4673,92.6],[4678,92],[4683,94.3],[4688,93.7],[4692,91.8],[4697,93],[4702,91.7],[4707,92.3],[4712,94.6],[4717,95.1],[4722,93.6],[4727,96.4],[4732,95],[4737,97.8],[4741,95.6],[4746,97.8],[4751,95.6],[4756,94.8],[4761,93.2],[4766,92],[4770,94.2],[4773,93.9],[4777,96.3],[4780,95.8],[4784,97.2],[4787,96.9],[4791,95.4],[4795,98],[4800,95.3],[4805,96.2],[4810,94],[4815,94.4],[4820,96.3],[4825,95.1],[4830,96.9],[4835,95.8],[4840,93.5],[4844,94.8],[4849,92.9],[4854,93.7],[4859,95.9],[4864,95.1],[4869,96.8],[4874,96.4],[4879,94.4],[4884,95.8],[4888,94],[4893,95.1],[4898,96.6],[4903,94.7],[4908,95.8],[4913,94.4],[4918,96.8],[4923,96],[4928,97.9],[4933,97.5],[4938,95.6],[4943,94.9],[4948,93.3],[4952,92.3],[4960,95.2],[4967,94.6],[4975,96.2],[4982,96.8],[4987,94.2],[4992,94.4],[4997,92.8],[5002,92],[5009,94.8],[5016,94.6],[5024,96.4],[5031,97.1],[5036,95.2],[5041,95.8],[5046,93.6],[5051,94.4],[5056,96.2],[5060,95.1],[5065,96.6],[5070,95.8],[5075,94],[5080,94.8],[5085,93],[5090,93.7],[5095,95.8],[5100,94.6],[5105,96.1],[5110,95.4],[5115,93.9],[5120,94.9],[5125,93.5],[5129,94.4],[5134,96.1],[5139,95.4],[5144,97.2],[5149,96.4],[5154,95],[5159,97.1],[5164,96],[5169,97.8],[5173,95.7],[5177,96.8],[5181,95.1],[5185,95.8],[5188,97.6],[5191,97.4],[5195,98.4],[5198,98.9],[5206,96],[5213,97],[5220,95.8],[5228,99.2],[5232,97.3],[5237,96.8],[5242,94.9],[5247,94.4],[5252,96.4],[5257,95.8],[5262,97.6],[5267,97.1],[5274,95.6],[5281,97.7],[5289,96.4],[5296,98.2],[5301,96.3],[5306,95.5],[5311,93.8],[5316,92.7],[5320,95.1],[5323,94.6],[5327,96.8],[5330,96.4],[5334,98.4],[5338,98],[5342,96.6],[5346,99.7],[5350,96.4],[5355,97],[5360,95.2],[5365,94.4],[5370,96.5],[5375,95.8],[5380,97.6],[5385,97.1],[5392,95.2],[5399,96.1],[5406,94.4],[5414,95.1],[5418,93.8],[5422,93.1],[5426,92.5],[5430,91.1],[5436,94.1],[5442,93.5],[5448,95.6],[5454,95.8],[5462,94.6],[5470,97],[5478,95.8],[5487,98.2],[5491,95.8],[5495,94.5],[5499,92.6],[5503,90.9],[5508,93.6],[5512,93.2],[5517,95.6],[5522,95.4],[5527,93.5],[5532,94.9],[5537,93.6],[5542,94.4],[5547,96.4],[5552,95.8],[5557,97.4],[5562,97.1],[5569,95.2],[5576,94.7],[5583,93.4],[5591,92.3],[5598,95.2],[5606,94.6],[5613,96.4],[5621,96.8],[5628,94.6],[5635,96],[5642,94.2],[5650,95.1],[5655,96.8],[5660,96],[5665,97.6],[5670,96.8],[5675,97.4],[5681,98.1],[5687,96.9],[5693,99.4],[5697,97.4],[5701,98.2],[5705,96.4],[5709,97.1],[5714,98.5],[5719,97.7],[5724,99.2],[5729,98.2],[5732,96.4],[5735,96.7],[5739,94.6],[5742,95.1],[5746,97.6],[5750,97],[5754,98.6],[5758,98.9],[5762,96.4],[5766,95.6],[5770,93.9],[5774,92.3],[5779,94.6],[5785,93.7],[5791,96.2],[5797,95.1],[5805,96.8],[5812,96.1],[5820,95.2],[5827,97.1],[5832,95.6],[5837,94.4],[5842,92.8],[5847,91.6],[5852,93.8],[5856,93],[5861,95],[5866,94.4],[5869,93.2],[5871,92.3],[5874,91.4],[5876,90.2],[5881,91.8],[5886,90.9],[5891,92.6],[5896,91.6],[5901,89.9],[5905,90.4],[5910,89.6],[5915,89.2],[5918,91.2],[5920,90.3],[5923,92.2],[5925,91.3],[5930,94.2],[5935,94.5],[5940,96.2],[5945,97.8],[5950,95.1],[5955,95.3],[5960,93.4],[5964,92.7],[5968,94.3],[5972,93.7],[5976,95.2],[5980,94.7],[5984,92.8],[5987,93.5],[5991,91.6],[5994,92.3],[5996,91.4],[5998,90],[6000,87.8]
];

const chart = echarts.init(document.getElementById('chart'));
const fontFamily = '"Liberation Sans", Arial, Helvetica, sans-serif';

const tickStyle = { color: '#000', width: 1.5 };
const labelStyle = {
  fontFamily: fontFamily,
  fontSize: 26,
  fontWeight: 'bold',
  color: '#000',
  formatter: function (v) { return String(v); }
};

const option = {
  animation: false,
  backgroundColor: '#fff',
  grid: {
    left: 73,
    right: 40,
    top: 39,
    bottom: 61,
    show: true,
    borderColor: '#000',
    borderWidth: 2
  },
  legend: {
    data: seriesNames,
    orient: 'vertical',
    left: 480,
    top: 70,
    icon: 'rect',
    itemWidth: 33,
    itemHeight: 1.5,
    itemGap: 6,
    padding: [4, 10, 3, 7],
    backgroundColor: '#fff',
    selectedMode: false,
    textStyle: {
      fontFamily: fontFamily,
      fontSize: 26,
      color: '#000',
      lineHeight: 28,
      padding: [0, 0, 0, 6]
    }
  },
  xAxis: {
    type: 'value',
    min: 0,
    max: 6000,
    interval: 1000,
    axisLine: { show: true, onZero: false, lineStyle: { color: '#000', width: 3 } },
    axisTick: { show: true, length: 13, lineStyle: tickStyle },
    minorTick: { show: true, splitNumber: 5, length: 6, lineStyle: tickStyle },
    splitLine: { show: true, lineStyle: { color: '#c6c6c6', width: 1 } },
    axisLabel: Object.assign({ margin: 16 }, labelStyle)
  },
  yAxis: {
    type: 'value',
    min: 60,
    max: 140,
    interval: 10,
    axisLine: { show: true, onZero: false, lineStyle: { color: '#000', width: 3 } },
    axisTick: { show: true, length: 13, lineStyle: tickStyle },
    minorTick: { show: true, splitNumber: 2, length: 6, lineStyle: tickStyle },
    splitLine: { show: true, lineStyle: { color: '#c6c6c6', width: 1 } },
    axisLabel: Object.assign({ margin: 19 }, labelStyle)
  },
  graphic: [
    {
      type: 'text',
      left: 71,
      top: 7,
      style: { text: 'dB', font: 'bold 26px ' + fontFamily, fill: '#000' }
    },
    {
      type: 'text',
      left: 1076,
      top: 851,
      style: { text: 'Hz', font: 'bold 26px ' + fontFamily, fill: '#000' }
    }
  ],
  series: [
    {
      name: seriesNames[0],
      type: 'line',
      data: selbstgebaute,
      showSymbol: false,
      symbol: 'none',
      silent: true,
      color: seriesColors[0],
      lineStyle: { color: seriesColors[0], width: 1.2 }
    },
    {
      name: seriesNames[1],
      type: 'line',
      data: omnisource,
      showSymbol: false,
      symbol: 'none',
      silent: true,
      color: seriesColors[1],
      lineStyle: { color: seriesColors[1], width: 1.3 }
    }
  ]
};

chart.setOption(option);
</script>
</body>
</html>
